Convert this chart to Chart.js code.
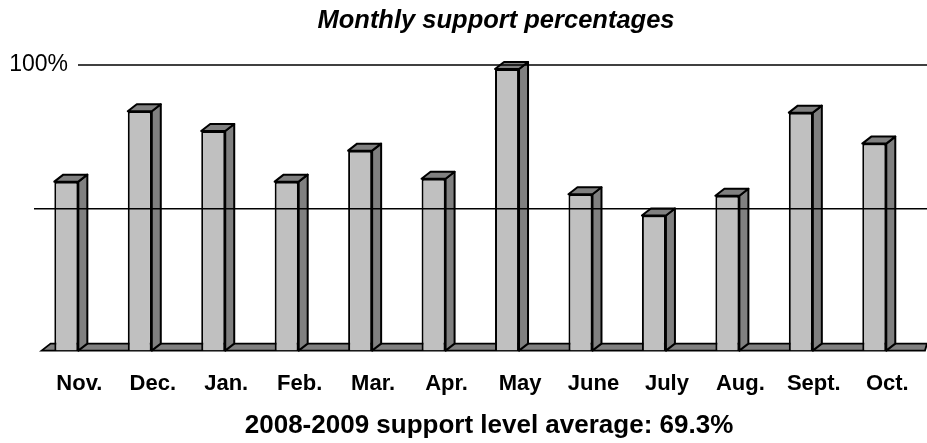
<!DOCTYPE html>
<html>
<head>
<meta charset="utf-8">
<script src="https://cdn.jsdelivr.net/npm/chart.js@4/dist/chart.umd.min.js"></script>
<style>
    html, body { margin: 0; padding: 0; background: #fff; }
    #wrap { width: 927px; height: 443px; }
</style>
</head>
<body>
<div id="wrap"><canvas id="chart"></canvas></div>
<script>
(function() {
    'use strict';

    var months = ['Nov.', 'Dec.', 'Jan.', 'Feb.', 'Mar.', 'Apr.', 'May', 'June', 'July', 'Aug.', 'Sept.', 'Oct.'];
    var support = [60, 85, 78, 60, 71, 61, 100, 55.5, 48, 55, 84.5, 73.5];
    var gridValues = [50, 100];
    var axisLabels = ['', '100%'];
    var chartTitle = 'Monthly support percentages';
    var footnote = '2008-2009 support level average: 69.3%';

    var FONT = '"Liberation Sans", Arial, sans-serif';
    var DEPTH_X = 9;
    var DEPTH_Y = 7;

    function poly(ctx, pts, fill) {
        ctx.beginPath();
        ctx.moveTo(pts[0][0], pts[0][1]);
        for (var i = 1; i < pts.length; i++) {
            ctx.lineTo(pts[i][0], pts[i][1]);
        }
        ctx.closePath();
        ctx.fillStyle = fill;
        ctx.fill();
        ctx.stroke();
    }

    // Floor, 3D faces, gridlines and texts
    var threeD = {
        id: 'threeD',
        beforeDatasetsDraw: function(chart) {
            var ctx = chart.ctx;
            var area = chart.chartArea;
            var y0 = chart.scales.y.getPixelForValue(0);
            ctx.save();
            ctx.lineWidth = 1.8;
            ctx.strokeStyle = '#000';
            poly(ctx, [
                [area.left + 12, y0],
                [area.left + 12 + DEPTH_X, y0 - DEPTH_Y],
                [chart.width, y0 - DEPTH_Y],
                [chart.width - 2, y0]
            ], '#808080');
            ctx.restore();
        },
        afterDatasetsDraw: function(chart) {
            var ctx = chart.ctx;
            var yScale = chart.scales.y;
            var meta = chart.getDatasetMeta(0);
            ctx.save();
            ctx.lineWidth = 2;
            ctx.strokeStyle = '#000';
            ctx.lineJoin = 'round';

            meta.data.forEach(function(bar) {
                var p = bar.getProps(['x', 'y', 'base', 'width'], true);
                var l = p.x - p.width / 2;
                var r = p.x + p.width / 2;
                // side
                poly(ctx, [
                    [r, p.y],
                    [r + DEPTH_X, p.y - DEPTH_Y],
                    [r + DEPTH_X, p.base - DEPTH_Y],
                    [r, p.base]
                ], '#808080');
                // top
                poly(ctx, [
                    [l, p.y],
                    [l + DEPTH_X, p.y - DEPTH_Y],
                    [r + DEPTH_X, p.y - DEPTH_Y],
                    [r, p.y]
                ], '#808080');
            });

            // gridlines sit at mid depth, over the bars
            ctx.lineWidth = 1.5;
            gridValues.forEach(function(v, i) {
                var y = yScale.getPixelForValue(v) - 4 * v / 100 + (axisLabels[i] ? 0 : 1);
                var x0 = axisLabels[i] ? 78 : 34;
                ctx.beginPath();
                ctx.moveTo(x0, y);
                ctx.lineTo(chart.width, y);
                ctx.stroke();
                if (axisLabels[i]) {
                    ctx.fillStyle = '#000';
                    ctx.font = '23px ' + FONT;
                    ctx.textAlign = 'right';
                    ctx.textBaseline = 'middle';
                    ctx.fillText(axisLabels[i], 68, y);
                }
            });

            ctx.fillStyle = '#000';
            ctx.textAlign = 'center';
            ctx.textBaseline = 'middle';
            ctx.font = 'italic bold 25.5px ' + FONT;
            ctx.fillText(chartTitle, 496, 21);
            ctx.font = 'bold 26px ' + FONT;
            ctx.fillText(footnote, 489, 426);
            ctx.restore();
        }
    };

    new Chart(document.getElementById('chart'), {
        type: 'bar',
        data: {
            labels: months,
            datasets: [{
                data: support,
                backgroundColor: '#c0c0c0',
                borderColor: '#000',
                borderWidth: 2,
                barPercentage: 0.327,
                categoryPercentage: 1
            }]
        },
        options: {
            responsive: true,
            maintainAspectRatio: false,
            animation: false,
            layout: {
                padding: { left: 29.6, right: 16, top: 69, bottom: 26 }
            },
            plugins: {
                legend: { display: false },
                tooltip: { enabled: false }
            },
            scales: {
                x: {
                    grid: { display: false, drawTicks: false },
                    border: { display: false },
                    ticks: {
                        color: '#000',
                        font: { family: FONT, size: 22, weight: 'bold' },
                        padding: 20,
                        labelOffset: 13,
                        maxRotation: 0,
                        autoSkip: false
                    }
                },
                y: {
                    display: false,
                    min: 0,
                    max: 100
                }
            }
        },
        plugins: [threeD]
    });
})();
</script>
</body>
</html>
